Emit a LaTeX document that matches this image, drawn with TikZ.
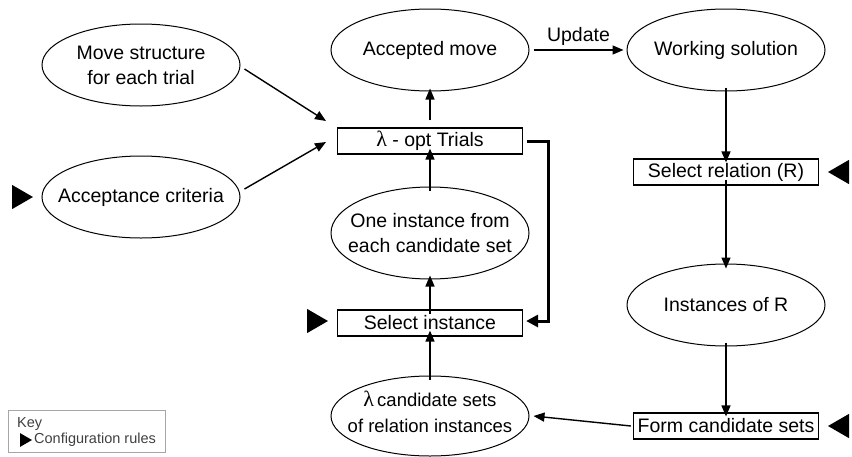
\documentclass[tikz,border=0pt]{standalone}
\usepackage{fontspec}
\setmainfont{Liberation Sans}
\newfontfamily\lamfont{Liberation Serif}
\usetikzlibrary{arrows.meta,shapes.geometric}
\newcommand{\lam}{{\lamfont\fontsize{22}{22}\selectfont λ}}
\tikzset{
  oval/.style={draw, ellipse, line width=1pt, minimum width=198pt, minimum height=82pt, inner sep=0pt,
    label={[align=center, font=\fontsize{19.5}{25}\selectfont, inner sep=0pt]center:#1}},
  stepbox/.style={draw, rectangle, line width=1.2pt, minimum width=185pt, minimum height=26pt, inner sep=0pt, font=\fontsize{19.5}{24}\selectfont},
  flow/.style={line width=1.4pt, -{Triangle[length=11pt,width=9pt]}},
  thickflow/.style={line width=3pt, -{Triangle[length=12pt,width=12pt]}},
  rulemark/.style={fill=black, draw=none, isosceles triangle, isosceles triangle apex angle=60, minimum height=21pt, inner sep=0pt, shape border rotate=#1},
}
\begin{document}
\begin{tikzpicture}[x=1pt,y=-1pt]
\useasboundingbox (0,0) rectangle (852,456);

% left inputs
\node[oval={Move structure\\for each trial}] (move) at (141,65) {};
\node[oval={Acceptance criteria}] (accept) at (141,197) {};

% centre column
\node[oval={Accepted move}] (accmove) at (430,50) {};
\node[stepbox] (trials) at (430,141) {\lam\ - opt Trials};
\node[oval={One instance from\\each candidate set}, minimum height=92pt] (oneinst) at (430,233) {};
\node[stepbox] (selinst) at (430,323) {Select instance};
\node[draw, ellipse, line width=1pt, minimum width=198pt, minimum height=80pt, inner sep=0pt,
  label={[align=center, font=\fontsize{18.5}{26}\selectfont, inner sep=0pt, yshift=4pt]center:\lam\,candidate sets\\of relation instances}] (candsets) at (430,416) {};

% right column
\node[oval={Working solution}] (working) at (726,50) {};
\node[stepbox] (selrel) at (726,172) {Select relation (R)};
\node[oval={Instances of R}] (instR) at (726,305) {};
\node[stepbox] (formcs) at (726,426) {Form candidate sets};

% configuration rule markers
\node[rulemark=0] (m1) at (19,197) {};
\node[rulemark=0] (m2) at (314,321) {};
\node[rulemark=180] (m3) at (842,172) {};
\node[rulemark=180] (m4) at (842,426) {};

% connectors
\draw[flow] (move.east) ++(4,4) coordinate (ms) -- (326,121);
\draw[flow] (accept.east) ++(4,-8) coordinate (as) -- (326,142);
\draw[flow] (trials.north) ++(0,-7) -- ([yshift=3]accmove.south);
\draw[flow] (accmove.east) ++(4,0) -- node[above, font=\fontsize{19.5}{24}\selectfont] {Update} ([xshift=-3]working.west);
\draw[flow] ([yshift=4]working.south) -- ([yshift=-4]selrel.north);
\draw[flow] ([yshift=6]selrel.south) -- ([yshift=-5]instR.north);
\draw[flow] ([yshift=4]instR.south) -- ([yshift=-4]formcs.north);
\draw[flow] ([xshift=-2]formcs.west) -- ([xshift=4]candsets.east);
\draw[flow] ([yshift=-4]candsets.north) -- ([yshift=6]selinst.south);
\draw[flow] ([yshift=-5]selinst.north) -- ([yshift=4]oneinst.south);
\draw[flow] ([yshift=-4]oneinst.north) -- ([yshift=6]trials.south);
\draw[thickflow] ([xshift=4]trials.east) -| (548,321) -- ([xshift=3]selinst.east |- 0,321);

% key
\draw[gray!70, line width=1pt] (8,410) rectangle (165,452);
\node[anchor=west, text=black!75, font=\fontsize{14.5}{16}\selectfont, inner sep=0pt] (keyt) at (17,424) {Key};
\node[anchor=west, text=black!75, font=\fontsize{14.5}{16}\selectfont, inner sep=0pt] (keyr) at (34,440) {Configuration rules};
\node[fill=black, isosceles triangle, isosceles triangle apex angle=60, minimum height=12pt, inner sep=0pt] (keym) at (24,440) {};
\end{tikzpicture}
\end{document}
